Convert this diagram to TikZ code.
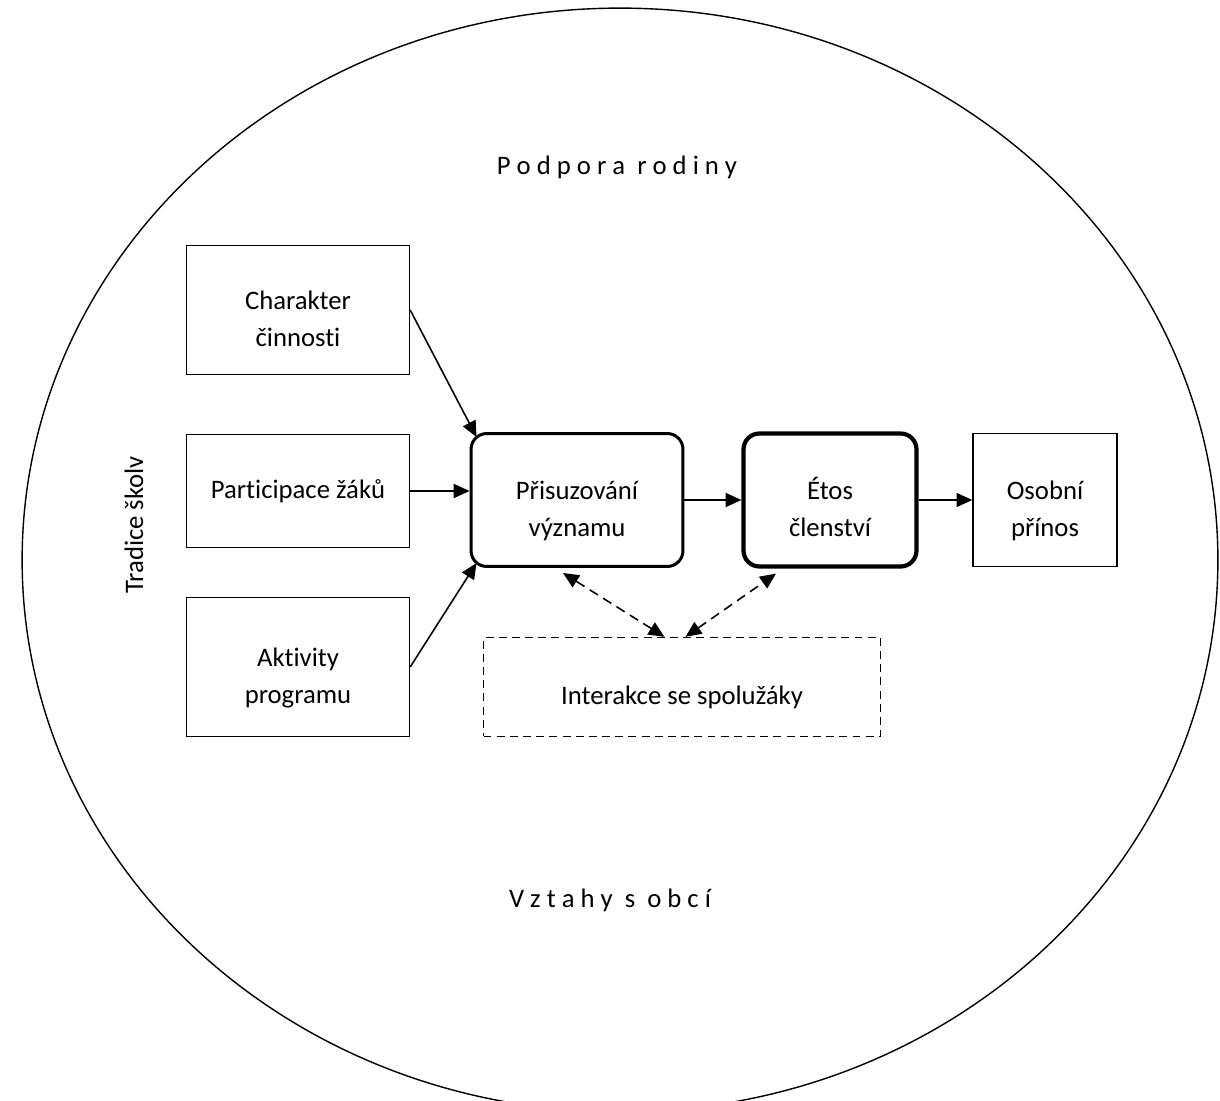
\documentclass[tikz,border=0pt]{standalone}
\usepackage{fontspec}
\setmainfont{Carlito}[Ligatures=NoCommon]
\usetikzlibrary{arrows.meta, positioning, calc}

\begin{document}
\begin{tikzpicture}[x=0.02cm, y=-0.02cm, font=\fontsize{15.2pt}{21pt}\selectfont,
    >={Triangle[length=9pt, width=8pt]},
    box/.style={draw, line width=0.8pt, minimum width=4.46cm, align=center},
    two/.style={text height=41.6pt, text depth=0pt},
    rbox/.style={draw, rounded corners=9pt, minimum height=2.66cm, align=center, two},
    link/.style={->, line width=0.9pt},
    dlink/.style={<->, line width=0.9pt, dash pattern=on 5.5pt off 3.5pt}
]
    \useasboundingbox (0,0) rectangle (1220,1101);
    \draw[line width=0.8pt] (620,560) ellipse [x radius=11.96cm, y radius=11.04cm];

    % vnejsi popisky
    \node (rodina) at (617,167) {P o d p o r a \ r o d i n y};
    \node (obec) at (610,900) {V z t a h y \ s \ o b c í};
    \node[rotate=90] (tradice) at (134,525) {Tradice školv};

    % vstupy
    \node[box, two, minimum height=2.58cm] (char) at (298,310) {Charakter\\činnosti};
    \node[box, minimum height=2.26cm] (part) at (298,491) {Participace žáků};
    \node[box, two, minimum height=2.78cm] (akt) at (298,667) {Aktivity\\programu};

    \node[rbox, line width=1.7pt, minimum width=4.24cm] (pris) at (577,500) {Přisuzování\\významu};
    \node[rbox, line width=2.4pt, minimum width=3.46cm] (etos) at (830,500) {Étos\\členství};
    \node[box, two, minimum width=2.88cm, minimum height=2.66cm] (prinos) at (1045,500) {Osobní\\přínos};
    \node[draw, line width=0.8pt, dash pattern=on 4.5pt off 3pt, minimum width=7.94cm, minimum height=1.98cm,
        text height=20pt, text depth=0pt] (inter) at (682,687) {Interakce se spolužáky};

    \draw[link] (char.east) -- ([shift={(7,5)}]pris.north west);
    \draw[link] (part.east) -- (part.east -| pris.west);
    \draw[link] (akt.east) -- ([shift={(7,-5)}]pris.south west);
    \draw[link] (pris.east) -- (pris.east -| etos.west);
    \draw[link] (etos.east) -- (etos.east -| prinos.west);
    \draw[dlink] ([xshift=-10]inter.north) -- ([shift={(-14,5)}]pris.south);
    \draw[dlink] ([xshift=2]inter.north) -- ([shift={(-54,5)}]etos.south);
\end{tikzpicture}
\end{document}
